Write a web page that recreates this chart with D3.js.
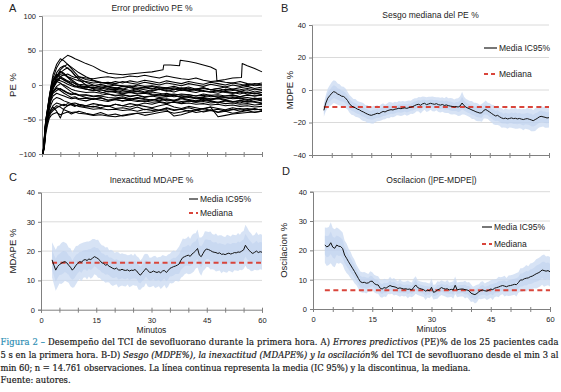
<!DOCTYPE html>
<html><head><meta charset="utf-8">
<script src="https://cdn.jsdelivr.net/npm/d3@7"></script>
<style>body{margin:0;background:#fff}svg{display:block}</style>
</head><body>
<svg id="c" width="561" height="392"></svg>
<script>
// ---------- DATA ----------
const peTimes = [0.3,0.7,1,1.5,2,2.5,3,4,5,6,7,8,9,10,12,14,16,18,20,22,24,26,28,30,32,34,36,38,40,42,44,46,48,50,52,54,56,58,60];
// patient 1 has its own sampling (step jumps)
const pe1Times = [0.3,0.7,1,1.5,2,2.5,3,4,5,6,7,8,9,10,12,14,16,18,20,22,24,26,28,30,32,33,33.2,35,37.5,37.7,40,42,44,46,47.5,47.7,50,52,54.4,54.6,56,58,60];
const pe1 = [-100,-70,-52,-35,-18,-2,10,25,34,39,43,41,38,36,31,27,21,17,16,15,16,17,18,19,21,22,29,29,28,36,34,32,29,26,22,6,8,10,11,31,28,24,19];
const pePatients = [
 [-98,-75,-55,-38,-20,0,15, 30,38,35,30,26,22,18, 12,7,4,2,0,-2,-1,-3,-4,-2,-5,-6,-4,-7,-8,-6,-9,-10,-8,-11,-12,-10,-13,-12,-14],
 [-100,-78,-58,-42,-25,-8,5, 18,25,28,24,20,14,10, 4,0,-3,-5,-4,-6,-8,-5,-7,-9,-6,-8,-10,-7,-9,-11,-8,-10,-12,-9,-11,-13,-10,-12,-11],
 [-99,-80,-60,-45,-30,-15,-2, 12,22,27,30,24,18,12, 8,6,3,4,2,5,3,1,4,2,0,3,1,-1,2,0,-2,1,-1,-3,0,-2,1,-1,0],
 [-100,-76,-57,-40,-22,-5,5, 12,15,14,16,13,11,12, 10,9,11,12,10,11,13,12,14,12,10,13,11,9,8,10,7,5,6,4,3,5,2,1,3],
 [-100,-82,-62,-46,-30,-12,0, 12,20,17,12,8,4,0, -3,-5,-4,-7,-6,-8,-10,-9,-11,-10,-12,-14,-13,-15,-14,-16,-15,-17,-16,-18,-17,-19,-18,-20,-19],
 [-100,-79,-61,-44,-28,-14,-5, 4,10,8,5,2,-2,-4, -6,-8,-7,-10,-9,-12,-11,-13,-12,-14,-16,-15,-17,-16,-18,-20,-19,-21,-20,-22,-24,-23,-25,-24,-26],
 [-97,-74,-56,-40,-25,-12,-4, 5,3,-2,-6,-10,-13,-15, -18,-20,-19,-22,-21,-23,-22,-24,-23,-25,-24,-26,-25,-27,-26,-28,-27,-29,-28,-30,-29,-31,-30,-32,-31],
 [-100,-85,-66,-50,-40,-35,-32, -38,-48,-34,-30,-28,-30,-29, -32,-31,-33,-30,-34,-33,-35,-32,-36,-34,-37,-33,-36,-35,-38,-36,-39,-37,-40,-38,-41,-39,-37,-40,-38],
 [-100,-83,-64,-50,-42,-38,-35, -30,-32,-36,-38,-40,-39,-41, -42,-44,-43,-45,-46,-44,-42,-41,-40,-39,-37,-36,-45,-43,-40,-37,-34,-32,-46,-44,-42,-41,-40,-39,-38],
 [-100,-77,-58,-42,-27,-16,-10, -5,-8,-12,-15,-18,-17,-20, -19,-21,-18,-22,-20,-19,-21,-18,-20,-22,-19,-21,-23,-20,-22,-24,-21,-23,-25,-22,-24,-26,-23,-25,-27],
 [-100,-73,-53,-37,-20,-6,2, 8,6,4,1,-1,-3,-2, -4,-3,-5,-2,-4,-6,-3,-5,-4,-6,-3,-5,-7,-4,-6,-8,-5,-7,-9,-6,-8,-7,-5,-7,-6],
 [-100,-78,-59,-43,-29,-17,-9, -2,2,0,-3,-6,-8,-9, -11,-10,-12,-9,-11,-13,-10,-12,-11,-13,-14,-12,-15,-13,-14,-16,-13,-15,-14,-16,-15,-17,-14,-16,-15],
 [-99,-81,-63,-48,-36,-28,-22, -18,-20,-23,-25,-27,-26,-28, -30,-27,-29,-31,-28,-30,-32,-29,-31,-33,-30,-28,-32,-34,-31,-33,-35,-32,-34,-36,-33,-35,-34,-36,-35],
 [-100,-74,-54,-36,-18,-4,6, 14,18,16,12,10,8,6, 5,3,4,2,5,3,6,4,7,5,3,6,4,2,5,3,1,4,2,0,3,1,-1,2,0],
 [-100,-80,-62,-47,-32,-18,-6, 8,18,22,25,20,14,8, 0,-6,-10,-13,-15,-14,-16,-15,-17,-16,-18,-17,-15,-18,-17,-19,-18,-20,-19,-18,-20,-19,-21,-20,-22],
 [-100,-77,-58,-42,-28,-18,-12, -8,-5,-9,-12,-14,-13,-15, -14,-16,-15,-13,-16,-14,-17,-15,-18,-16,-14,-17,-15,-18,-16,-19,-17,-15,-18,-16,-14,-17,-15,-16,-14],
 [-100,-75,-56,-39,-23,-10,-1, 7,10,7,4,1,-1,-3, -2,-4,-1,-3,-5,-2,-4,-6,-3,-5,-7,-4,-6,-8,-5,-7,-9,-10,-8,-10,-12,-9,-11,-13,-11],
 [-98,-84,-66,-52,-42,-35,-30, -26,-28,-30,-27,-29,-31,-28, -30,-32,-29,-31,-28,-30,-27,-29,-26,-28,-25,-27,-24,-26,-23,-25,-22,-24,-26,-23,-25,-22,-24,-21,-23],
 [-100,-76,-57,-41,-26,-12,-2, 6,12,15,11,6,2,-2, -6,-8,-7,-9,-8,-10,-9,-7,-10,-8,-6,-9,-7,-5,-8,-6,-4,-7,-5,-3,-6,-4,-2,-5,-3],
 [-100,-86,-68,-54,-45,-40,-37, -33,-30,-28,-30,-27,-29,-31, -33,-35,-34,-36,-35,-37,-36,-38,-35,-37,-36,-34,-37,-35,-33,-36,-34,-37,-35,-38,-36,-34,-37,-35,-36],
 [-99,-79,-60,-45,-32,-22,-16, -12,-14,-16,-18,-20,-19,-21, -23,-20,-22,-24,-21,-23,-20,-22,-24,-21,-23,-20,-22,-19,-21,-23,-20,-22,-19,-21,-18,-20,-22,-19,-21],
 [-100,-72,-52,-34,-16,-2,8, 16,12,9,6,4,2,1, 0,-1,1,-2,0,-1,-3,0,-2,-1,-3,-4,-2,-5,-3,-6,-4,-7,-5,-8,-6,-9,-7,-10,-8],
 [-100,-80,-61,-45,-30,-18,-10, -4,-6,-8,-11,-13,-12,-14, -15,-17,-16,-18,-19,-17,-20,-19,-21,-22,-20,-23,-22,-24,-23,-25,-24,-26,-25,-27,-26,-28,-27,-29,-28],
 [-100,-88,-72,-58,-48,-44,-42, -40,-43,-41,-39,-42,-40,-38, -41,-43,-40,-44,-42,-45,-43,-41,-44,-42,-40,-38,-41,-39,-37,-40,-38,-36,-39,-37,-35,-38,-36,-34,-37]
];

// B-D: minute 3 to 60 every 0.5 min
const minutes = d3.range(3, 60.001, 0.5);
const mdpeMean = [
 -12.5,-8,-5,-3.5,-2,-1,-1.5,-2.5,-3,-3.8,
 -4,-5,-6.5,-8.5,-9.8,-10.5,-11,-11.8,-12.2,-13,
 -13.5,-14.2,-14.8,-15.3,-15.6,-15.2,-14.8,-14.3,-14.6,-13.8,
 -13.2,-13.5,-12.8,-12.4,-12.1,-12.3,-11.8,-11.6,-11.2,-11.5,
 -11.2,-11,-11.3,-10.9,-10.6,-10.2,-9.6,-9,-8.8,-9.4,
 -8.5,-8.2,-9,-8.6,-8.2,-8.5,-8.8,-8.4,-9,-9.3,
 -8.9,-9.5,-9.2,-9.6,-9.9,-10.1,-10.4,-10.2,-10.5,-9.8,
 -8,-9.6,-10.6,-11.2,-11.7,-12.3,-12.8,-13.4,-13.8,-14.2,
 -14,-12.5,-12,-12.8,-13.6,-14.5,-15.3,-16,-15.6,-16.5,
 -17.2,-17.6,-17.3,-17.8,-17.5,-17.2,-17.6,-17.4,-17.8,-17.5,
 -17.9,-18.2,-17.8,-17.6,-18,-18.4,-18.9,-18.2,-17.5,-16.6,
 -16.2,-16.5,-16.8,-17.2,-17];
const mdpeCI = [
 4,5,6,6.5,7,7,7,6.5,6.5,6,
 6,6,5.5,5.5,5.5,5,5.5,5,5,5.5,
 5.5,5,5.5,5,5,5.5,5,5,4.5,5,
 5,4.5,4.5,5,4.5,4.5,4.5,4,4.5,4.5,
 4.5,4,4.5,4.5,4,4.5,4.5,4,4.5,5,
 4.5,4,4.5,4.5,4,4.5,4.5,4,4.5,4.5,
 4.5,4.5,5,4.5,5,5,4.5,5,5.5,6,
 7,5.5,5,5,5,5.5,5,5.5,5.5,5,
 5.5,5,5.5,5,5.5,5.5,6,5.5,6,5.5,
 6,5.5,6,6,5.5,6,6,6.5,6,6,
 6,6.5,6,6.5,6.5,7,6.5,7,6.5,6.5,
 6.5,6,6.5,6,6];
const mdpeMedian = -10.5;

const mdapeMean = [
 17,15.2,13.5,14.7,15.4,15.8,16.2,16.4,16,15.2,
 14.5,13.5,14.2,15.2,15.8,16.4,16.2,16.9,17.1,16.8,
 17.3,17.1,17.6,18.1,17.8,17.4,16.8,16,15.8,15.2,
 15.4,14.8,14.5,14.1,13.9,14.2,13.6,13.5,13.8,13.5,
 13.4,13.6,13.2,13.5,13.4,13.7,13.2,12.3,11.8,12.6,
 13.3,14.1,13.4,12.7,12.8,13.2,12.9,12.7,13,12.6,
 13.2,13.4,12.7,13.3,14.1,14.4,14.7,14.9,15.2,15.6,
 16.9,17.8,18.1,18.4,18.6,18.2,19,19.5,20.1,20.9,
 18.6,18.1,19.2,20.3,20.7,20.5,20.2,19.8,19.6,19.5,
 19.2,19.4,18.9,19,18.8,19.1,19.3,19,19.2,19.5,
 19.4,19.7,19.6,20,20.4,22,21,20.3,19.6,19.2,
 19.6,20,19.5,19.8,19.6];
const mdapeCI = [
 6,6.5,7,7,6.5,7,7,6.5,6.5,6,
 6.5,6,6.5,6.5,6,6,6.5,6,6,6.5,
 6,6.5,6.5,6,6,6.5,6,6,6,6,
 6,5.5,6,6,5.5,5.5,6,5.5,5.5,5.5,
 5.5,5,5.5,5.5,5,5.5,5,5.5,5,5,
 5.5,5,5.5,5,5,5,5.5,5,5,5.5,
 5.5,5,5.5,5.5,5,5.5,5.5,5,5.5,6,
 6,6.5,6,6,6.5,6,6.5,6.5,6,6.5,
 6,6.5,6,6.5,6,6,6.5,6,6,6.5,
 6,6,6.5,6,6,6.5,6,6,6.5,6,
 6,6.5,6,6.5,6.5,7,7,6.5,6.5,6,
 6,6.5,6,6,6];
const mdapeMedian = 16;

const oscMean = [
 21.8,21.2,21.5,22.6,21.1,20.7,21.8,21.4,21.3,20.6,
 18.4,17.3,16.1,15,13.9,12.8,11.6,10.4,9.3,9,
 9.1,8.8,8.9,9.4,9.5,8.7,8.3,8.2,7.1,6.8,
 7.3,7.1,7.6,8,7.7,7.6,7.4,7,7.2,7,
 6.8,6.9,6.7,6.8,6.5,7.4,8.2,7.3,7,6.8,
 6.6,6.1,6.4,6.2,7.4,5.7,5.9,6.5,6.8,7.3,
 7,6.8,6.9,6.5,6.7,6.5,8.1,6.5,6.7,6.8,
 6.8,6.6,6.5,6.2,5.4,5.1,4.9,5.3,5.9,6.3,
 6.5,6.2,6.1,6.4,6.8,6.6,7.1,7.3,7.5,7.8,
 8,7.8,7.6,7.9,8,8.2,8.4,8.3,9,9.9,
 9.9,10.3,10.5,10.6,11,11.2,11.6,12,12.3,12.7,
 13.3,13.1,12.9,13.1,12.7];
const oscCI = [
 6,6.5,6.5,7,6.5,6.5,6,6,5.5,5.5,
 5,5,4.5,4.5,4,4,3.5,3.5,3.5,3.5,
 3.5,3.5,3,3.5,3,3,3,3,3,3,
 3,3,2.5,3,2.5,3,2.5,2.5,3,2.5,
 2.5,2.5,3,2.5,2.5,3,3,2.5,2.5,2.5,
 2.5,3,2.5,2.5,3,2.5,2.5,3,2.5,2.5,
 2.5,2.5,3,2.5,2.5,3,3,2.5,2.5,2.5,
 2.5,3,2.5,3,3,2.5,3,3,2.5,3,
 3,2.5,3,3,3,3.5,3,3,3.5,3,
 3,3.5,3,3.5,3.5,3.5,3.5,4,3.5,4,
 4,4,4.5,4,4.5,4.5,4.5,5,5,5,
 5,5.5,5,5,5];
const oscMedian = 6.4;

const xTicks = [0,5,10,15,20,25,30,35,40,45,50,55,60];
const xLabelTicks = [0,15,30,45,60];
const legendLabels = ["Media IC95%", "Mediana"];

// ---------- DRAWING ----------
const svg = d3.select('#c');
const SANS = "'Liberation Sans', Arial, Helvetica, sans-serif";
const RED = '#d9453b';

function panel(p) {
  const x = d3.scaleLinear().domain([0,60]).range([p.x0,p.x1]);
  const y = d3.scaleLinear().domain([p.ymin,p.ymax]).range([p.yb,p.yt]);
  const g = svg.append('g');
  g.selectAll('line.grid').data(p.yticks.filter(v => v !== p.ymin)).join('line')
    .attr('x1',p.x0).attr('x2',p.x1).attr('y1',d=>y(d)).attr('y2',d=>y(d))
    .attr('stroke','#dadada').attr('stroke-width',1);
  const ya = g.append('g').attr('transform',`translate(${p.x0},0)`)
    .call(d3.axisLeft(y).tickValues(p.yticks).tickSize(3).tickPadding(3));
  const xa = g.append('g').attr('transform',`translate(0,${p.yb})`)
    .call(d3.axisBottom(x).tickValues(xTicks).tickSize(3).tickPadding(5)
      .tickFormat(d => (p.xlabels && xLabelTicks.includes(d)) ? d : ''));
  xa.selectAll('.tick line').attr('y1',-2).attr('y2',3);
  [ya, xa].forEach(a => {
    a.select('.domain').attr('stroke','#808080');
    a.selectAll('.tick line').attr('stroke','#808080');
    a.selectAll('text').attr('font-family',SANS).attr('font-size',7.5).attr('fill','#222');
  });
  svg.append('text').attr('x',(p.x0+p.x1)/2).attr('y',p.titleY).attr('text-anchor','middle')
    .attr('font-family',SANS).attr('font-size',8.5).attr('fill','#222').text(p.title);
  svg.append('text').attr('x',p.lx).attr('y',p.ly).attr('font-family',SANS)
    .attr('font-size',11).attr('fill','#222').text(p.letter);
  svg.append('text').attr('transform',`translate(${p.ylabX},${(p.yt+p.yb)/2}) rotate(-90)`)
    .attr('text-anchor','middle').attr('font-family',SANS).attr('font-size',9.5)
    .attr('fill','#222').text(p.ylabel);
  if (p.xlabels) {
    svg.append('text').attr('x',(p.x0+p.x1)/2).attr('y',p.yb+23).attr('text-anchor','middle')
      .attr('font-family',SANS).attr('font-size',8.5).attr('fill','#222').text('Minutos');
  }
  return {x, y, g};
}

// Panel A
(function(){
  const {x,y,g} = panel({x0:42,x1:262,yb:154,yt:16,ymin:-100,ymax:100,yticks:[-100,-50,0,50,100],
    title:'Error predictivo PE %',titleY:11,letter:'A',lx:9,ly:12,ylabel:'PE %',ylabX:16,xlabels:false});
  const line = d3.line().x(d=>x(d[0])).y(d=>y(d[1]));
  const series = [d3.zip(pe1Times, pe1)].concat(pePatients.map(v => d3.zip(peTimes, v)));
  g.append('g').selectAll('path').data(series).join('path')
    .attr('d', line).attr('fill','none').attr('stroke','#000').attr('stroke-width',1.05)
    .attr('stroke-linejoin','round');
})();

function statPanel(p, mean, ci, median, leg) {
  const {x,y,g} = panel(p);
  const pts = d3.zip(minutes, mean, ci);
  g.append('path').datum(pts)
    .attr('d', d3.area().x(d=>x(d[0])).y0(d=>y(d[1]-d[2])).y1(d=>y(d[1]+d[2])))
    .attr('fill','#c9d9f1').attr('opacity',0.75);
  g.append('path').datum(pts)
    .attr('d', d3.area().x(d=>x(d[0])).y0(d=>y(d[1]-d[2]*0.55)).y1(d=>y(d[1]+d[2]*0.55)))
    .attr('fill','#b9cdee').attr('opacity',0.45);
  g.append('line').attr('x1',x(minutes[0])).attr('x2',x(60)).attr('y1',y(median)).attr('y2',y(median))
    .attr('stroke',RED).attr('stroke-width',2).attr('stroke-dasharray','5,3.5');
  g.append('path').datum(pts).attr('d', d3.line().x(d=>x(d[0])).y(d=>y(d[1])))
    .attr('fill','none').attr('stroke','#111').attr('stroke-width',1);
  const lg = svg.append('g');
  lg.append('line').attr('x1',leg.x0).attr('x2',leg.x1).attr('y1',leg.y1).attr('y2',leg.y1)
    .attr('stroke','#555').attr('stroke-width',1.6);
  lg.append('line').attr('x1',leg.x0).attr('x2',leg.x1).attr('y1',leg.y2).attr('y2',leg.y2)
    .attr('stroke',RED).attr('stroke-width',2).attr('stroke-dasharray','4,3');
  lg.selectAll('text').data([[legendLabels[0],leg.y1],[legendLabels[1],leg.y2]]).join('text')
    .attr('x',leg.x1+2).attr('y',d=>d[1]+3).attr('font-family',SANS).attr('font-size',8.5)
    .attr('fill','#222').text(d=>d[0]);
}

statPanel({x0:312,x1:549,yb:155,yt:25,ymin:-40,ymax:40,yticks:[-40,-20,0,20,40],
  title:'Sesgo mediana del PE %',titleY:18,letter:'B',lx:281,ly:12,ylabel:'MDPE %',ylabX:293,xlabels:false},
  mdpeMean, mdpeCI, mdpeMedian, {x0:484,x1:497,y1:48,y2:74});
statPanel({x0:41,x1:262,yb:309.7,yt:192.5,ymin:0,ymax:40,yticks:[0,10,20,30,40],
  title:'Inexactitud MDAPE %',titleY:183,letter:'C',lx:9,ly:181,ylabel:'MDAPE %',ylabX:16,xlabels:true},
  mdapeMean, mdapeCI, mdapeMedian, {x0:189,x1:198,y1:199,y2:213});
statPanel({x0:313,x1:550,yb:309,yt:191.7,ymin:0,ymax:40,yticks:[0,10,20,30,40],
  title:'Oscilacion (|PE-MDPE|)',titleY:183,letter:'D',lx:282,ly:175,ylabel:'Oscilacion %',ylabX:287,xlabels:true},
  oscMean, oscCI, oscMedian, {x0:482,x1:492,y1:227,y2:244});

// ---------- CAPTION ----------
const captionLines = [
  [['Figura 2 – ','t'],['Desempeño del TCI de sevofluorano durante la primera hora. A) ',''],['Errores predictivos','i'],[' (PE)% de los 25 pacientes cada','']],
  [['5 s en la primera hora. B-D) ',''],['Sesgo (MDPE%), la inexactitud (MDAPE%) y la oscilación%','i'],[' del TCI de sevofluorano desde el min 3 al','']],
  [['min 60; n = 14.761 observaciones. La línea continua representa la media (IC 95%) y la discontinua, la mediana.','']],
  [['Fuente: autores.','']]
];
const capLens = [558, 558, 470, null];
const capY = [345, 357.5, 370.5, 383];
captionLines.forEach((ln, i) => {
  const t = svg.append('text').attr('x',0.5).attr('y',capY[i])
    .attr('font-family',"'DejaVu Serif', 'Liberation Serif', serif").attr('font-size',8.4)
    .attr('fill','#1a1a1a').attr('stroke','#1a1a1a').attr('stroke-width',0.2);
  if (capLens[i]) t.attr('textLength',capLens[i]).attr('lengthAdjust','spacing');
  ln.forEach(([s,st]) => {
    const ts = t.append('tspan').text(s);
    if (st === 't') ts.attr('fill','#2a8db3').attr('stroke','#2a8db3');
    if (st === 'i') ts.attr('font-style','italic');
  });
});
</script>
</body></html>
